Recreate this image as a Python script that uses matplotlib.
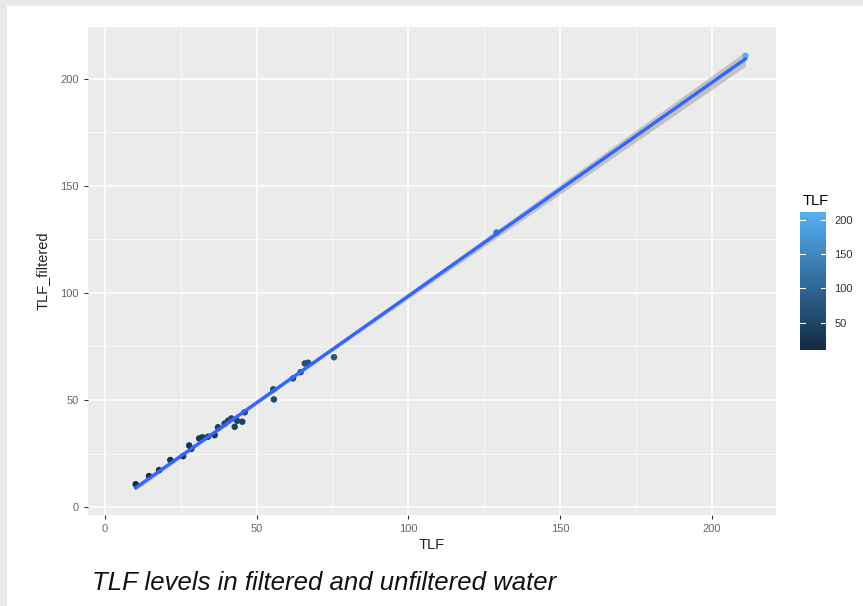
import numpy as np
import matplotlib
matplotlib.use("Agg")
import matplotlib.pyplot as plt
from matplotlib.colors import LinearSegmentedColormap, Normalize

plt.rcParams['font.family'] = ['Liberation Sans', 'DejaVu Sans']

# TLF (unfiltered) vs TLF_filtered
tlf = [10.2, 14.6, 17.9, 21.6, 25.8, 27.8, 28.5, 31.1, 32.2, 34.0, 36.2, 37.3,
       39.5, 40.6, 41.7, 42.8, 43.6, 45.3, 46.1, 55.5, 55.7, 62.0, 64.5, 65.9,
       67.0, 75.5, 129.0, 211.0]
tlf_filtered = [10.7, 14.5, 17.3, 22.0, 23.8, 28.8, 27.2, 32.1, 32.6, 32.9, 33.6, 37.3,
                39.0, 40.3, 41.4, 37.5, 40.3, 39.9, 44.3, 55.0, 50.3, 60.1, 63.0, 67.1,
                67.4, 70.0, 128.2, 210.7]
x_ticks = [0, 50, 100, 150, 200]
y_ticks = [0, 50, 100, 150, 200]
cbar_ticks = [50, 100, 150, 200]
caption = "TLF levels in filtered and unfiltered water"

x = np.array(tlf)
y = np.array(tlf_filtered)

# linear fit with 95% confidence band (like geom_smooth(method="lm"))
n = len(x)
slope, intercept = np.polyfit(x, y, 1)
xs = np.linspace(x.min(), x.max(), 200)
ys = intercept + slope * xs
resid = y - (intercept + slope * x)
s = np.sqrt(np.sum(resid ** 2) / (n - 2))
se = s * np.sqrt(1.0 / n + (xs - x.mean()) ** 2 / np.sum((x - x.mean()) ** 2))
band = 2.056 * se

fig = plt.figure(figsize=(8.63, 6.06), dpi=100)
fig.patch.set_facecolor('#e9e9e9')

# white page area behind everything (screenshot border stays grey)
bg = fig.add_axes([7 / 863, 0, 1 - 7 / 863, 1 - 6 / 606], zorder=-10)
bg.set_facecolor('white')
bg.set_xticks([])
bg.set_yticks([])
for sp in bg.spines.values():
    sp.set_visible(False)

ax = fig.add_axes([0.102, 0.150, 0.797, 0.805])
ax.set_facecolor('#EBEBEB')
for sp in ax.spines.values():
    sp.set_visible(False)

cmap = LinearSegmentedColormap.from_list('gg', ['#132B43', '#56B1F7'])
norm = Normalize(vmin=x.min(), vmax=x.max())

ax.fill_between(xs, ys - band, ys + band, color='#999999', alpha=0.5, lw=0, zorder=2)
ax.scatter(x, y, c=x, cmap=cmap, norm=norm, s=22, zorder=3, linewidths=0)
ax.plot(xs, ys, color='#3366FF', lw=2.4, zorder=4)

ax.set_xlim(-5.5, 221)
ax.set_ylim(-3.7, 224)
ax.set_xticks(x_ticks)
ax.set_yticks(y_ticks)
ax.set_xticks([25, 75, 125, 175], minor=True)
ax.set_yticks([25, 75, 125, 175], minor=True)
ax.grid(which='major', color='white', lw=1.1, zorder=1)
ax.grid(which='minor', color='white', lw=0.5, zorder=1)
ax.set_axisbelow(True)
ax.tick_params(which='major', length=3, color='#333333', labelcolor='#666666', labelsize=8)
ax.tick_params(which='minor', length=0)
ax.set_xlabel('TLF', fontsize=10.5, labelpad=3, color='#222222')
ax.set_ylabel('TLF_filtered', fontsize=10.5, labelpad=8, color='#222222')

# colour bar legend
cax = fig.add_axes([0.927, 0.422, 0.030, 0.228])
grad = np.linspace(x.min(), x.max(), 256).reshape(-1, 1)
cax.imshow(grad, aspect='auto', origin='lower', cmap=cmap,
           extent=[0, 1, x.min(), x.max()])
cax.set_xlim(0, 1)
cax.set_xticks([])
cax.yaxis.tick_right()
cax.set_yticks(cbar_ticks)
cax.tick_params(axis='y', length=0, labelsize=8, labelcolor='#333333', pad=6)
for sp in cax.spines.values():
    sp.set_visible(False)
for t in cbar_ticks:
    cax.plot([0, 0.2], [t, t], color='white', lw=0.8)
    cax.plot([0.8, 1], [t, t], color='white', lw=0.8)
fig.text(803 / 863, 1 - 201 / 606, 'TLF', fontsize=10.5, ha='left', va='center')

fig.text(92 / 863, 1 - 583 / 606, caption, fontsize=18.5, style='italic',
         ha='left', va='center', color='#111111')

fig.savefig('out.png', dpi=100, facecolor=fig.get_facecolor())
